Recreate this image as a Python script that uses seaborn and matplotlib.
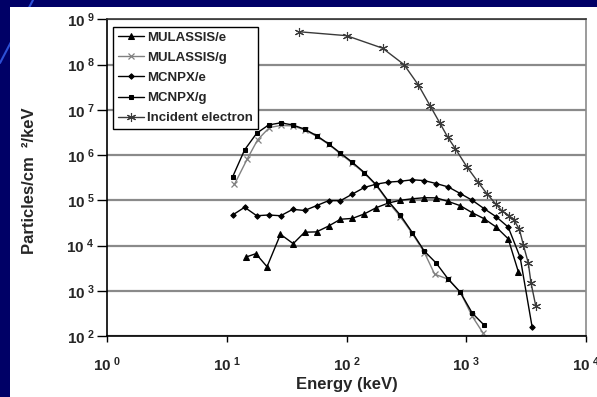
import matplotlib
matplotlib.use("Agg")
import matplotlib.pyplot as plt
import seaborn as sns
import pandas as pd
from matplotlib.patches import Rectangle
from matplotlib.lines import Line2D
from matplotlib.ticker import FixedLocator, FixedFormatter, NullLocator

# Energy grids (keV)
energy_grid = [11.2, 14.1, 17.8, 22.4, 28.2, 35.5, 44.7, 56.2, 70.8, 89.1,
               112, 141, 178, 224, 282, 355, 447, 562, 708, 891,
               1122, 1413, 1778, 2239, 2818, 3548]

# MULASSIS electrons
mul_e_energy = [14.6, 17.5, 21.7, 28.1, 35.9, 44.7, 56.2, 70.8, 89.1, 112,
                141, 178, 224, 282, 355, 447, 562, 708, 891, 1122,
                1413, 1778, 2239, 2722]
mul_e_flux = [5.6e3, 6.6e3, 3.4e3, 1.77e4, 1.1e4, 1.97e4, 2.0e4, 2.69e4, 3.81e4, 3.97e4,
              5.0e4, 6.9e4, 8.7e4, 1.0e5, 1.08e5, 1.14e5, 1.13e5, 9.4e4, 7.6e4, 5.3e4,
              3.9e4, 2.56e4, 1.41e4, 2.64e3]

# MULASSIS gammas
mul_g_energy = [11.6, 14.8, 18.1, 22.7, 28.2, 35.5, 44.7, 56.2, 70.8, 89.1,
                112, 141, 178, 224, 282, 355, 447, 545, 708, 891,
                1122, 1380]
mul_g_flux = [2.25e5, 8.1e5, 2.17e6, 4.05e6, 4.5e6, 4.41e6, 3.6e6, 2.6e6, 1.73e6, 1.06e6,
              6.6e5, 3.95e5, 2.1e5, 9.0e4, 4.3e4, 1.83e4, 7.0e3, 2.32e3, 1.8e3, 931,
              272, 117]

# MCNPX electrons
mcnpx_e_energy = energy_grid
mcnpx_e_flux = [4.73e4, 7.0e4, 4.55e4, 4.73e4, 4.55e4, 6.3e4, 5.95e4, 7.6e4, 9.8e4, 9.8e4,
                1.37e5, 1.92e5, 2.28e5, 2.52e5, 2.63e5, 2.84e5, 2.72e5, 2.34e5, 1.97e5, 1.41e5,
                1.0e5, 6.5e4, 4.32e4, 2.56e4, 5.5e3, 159]

# MCNPX gammas
mcnpx_g_energy = energy_grid[:22]
mcnpx_g_flux = [3.3e5, 1.3e6, 3.04e6, 4.63e6, 5.14e6, 4.63e6, 3.73e6, 2.69e6, 1.77e6, 1.1e6,
                6.9e5, 4.09e5, 2.17e5, 9.5e4, 4.67e4, 1.92e4, 7.5e3, 4.07e3, 1.8e3, 931,
                321, 173]

# Incident electron spectrum
inc_energy = [40.4, 100, 200, 302, 399, 498, 603, 700, 810, 1008,
              1254, 1500, 1755, 1990, 2276, 2505, 2775, 2995, 3297, 3473, 3802]
inc_flux = [5.3e8, 4.35e8, 2.3e8, 1.0e8, 3.5e7, 1.24e7, 5.06e6, 2.48e6, 1.39e6, 5.57e5,
            2.53e5, 1.36e5, 8.4e4, 5.8e4, 4.6e4, 3.6e4, 2.3e4, 1.04e4, 4.1e3, 1.49e3, 469]

x_ticks = [1, 10, 100, 1000, 10000]
x_tick_labels = [r"$10^{\ %d}$" % k for k in range(0, 5)]
y_ticks = [1e2, 1e3, 1e4, 1e5, 1e6, 1e7, 1e8, 1e9]
y_tick_labels = [r"$10^{\ %d}$" % k for k in range(2, 10)]

sns.set_theme(style="white")
plt.rcParams["font.family"] = ["Liberation Sans", "DejaVu Sans"]
plt.rcParams["mathtext.fontset"] = "custom"
plt.rcParams["mathtext.rm"] = "Liberation Sans:bold"
plt.rcParams["mathtext.bf"] = "Liberation Sans:bold"
plt.rcParams["mathtext.it"] = "Liberation Sans:bold"

W, H = 597, 397
fig = plt.figure(figsize=(W / 100, H / 100), dpi=100)
fig.patch.set_facecolor("#000066")
fig.add_artist(Line2D([0, 33 / W], [1 - 63 / H, 1], transform=fig.transFigure,
                      color="#2d4fd6", lw=1.5, zorder=0))
fig.add_artist(Rectangle((10 / W, 0), 1, 1 - 7 / H, transform=fig.transFigure,
                         facecolor="white", edgecolor="none", zorder=1))

ax = fig.add_axes([107 / W, 1 - 336 / H, (586 - 107) / W, (336 - 19.3) / H])
ax.set_zorder(2)
ax.set_xscale("log")
ax.set_yscale("log")

series = [
    ("MULASSIS/e", mul_e_energy, mul_e_flux, dict(marker="^", color="black", markersize=4.0, mec="black")),
    ("MULASSIS/g", mul_g_energy, mul_g_flux, dict(marker="x", color="#808080", markersize=4.0, mec="#808080", mew=0.9)),
    ("MCNPX/e", mcnpx_e_energy, mcnpx_e_flux, dict(marker="D", color="black", markersize=2.8, mec="black")),
    ("MCNPX/g", mcnpx_g_energy, mcnpx_g_flux, dict(marker="s", color="black", markersize=3.4, mec="black")),
    ("Incident electron", inc_energy, inc_flux, dict(marker=(6, 2, 0), color="#3a3a3a", markersize=6.5, mec="#3a3a3a", mew=0.8)),
]

for name, xs, ys, style in series:
    df = pd.DataFrame({"Energy": xs, "Flux": ys})
    sns.lineplot(data=df, x="Energy", y="Flux", ax=ax, label=name, estimator=None,
                 sort=False, linewidth=1.0, **style)

ax.set_xlim(1, 1e4)
ax.set_ylim(1e2, 1e9)
ax.xaxis.set_major_locator(FixedLocator(x_ticks))
ax.xaxis.set_major_formatter(FixedFormatter(x_tick_labels))
ax.yaxis.set_major_locator(FixedLocator(y_ticks))
ax.yaxis.set_major_formatter(FixedFormatter(y_tick_labels))
ax.xaxis.set_minor_locator(NullLocator())
ax.yaxis.set_minor_locator(NullLocator())

ax.yaxis.grid(True, color="#8a8a8a", lw=1.6)
ax.xaxis.grid(False)
ax.set_axisbelow(True)

for side in ["left", "bottom"]:
    ax.spines[side].set_color("black")
    ax.spines[side].set_linewidth(1.2)
ax.spines["right"].set_color("#8a8a8a")
ax.spines["right"].set_linewidth(1.2)
ax.spines["top"].set_color("#333333")
ax.spines["top"].set_linewidth(1.2)

ax.tick_params(axis="x", direction="out", length=4, width=1, color="black",
               labelsize=11, pad=10, bottom=True)
ax.tick_params(axis="y", direction="out", length=7, width=1, color="black",
               labelsize=11, pad=2, left=True)

ax.set_xlabel("Energy (keV)", fontsize=12, fontweight="bold")
ax.xaxis.set_label_coords(0.5, -0.13)
ax.set_ylabel("Particles/cm  ²/keV", fontsize=12, fontweight="bold")
ax.yaxis.set_label_coords(-0.147, 0.49)

leg = ax.legend(loc="upper left", bbox_to_anchor=(0.0125, 0.976), borderaxespad=0,
                frameon=True, fancybox=False, framealpha=1, edgecolor="black",
                prop={"weight": "bold", "size": 9.5}, handlelength=2.0,
                labelspacing=0.6, borderpad=0.35, handletextpad=0.25)
leg.get_frame().set_linewidth(1.0)

fig.savefig("out.png", dpi=100, facecolor=fig.get_facecolor())
